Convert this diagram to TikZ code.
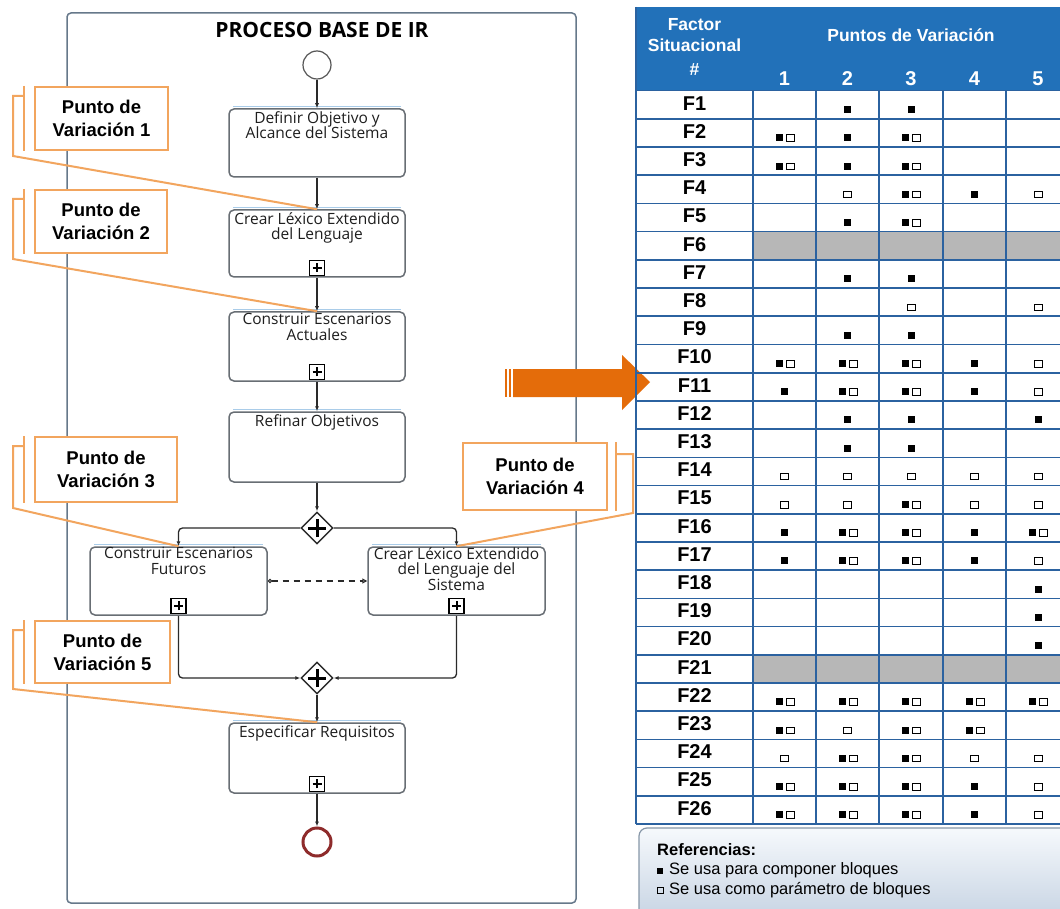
\documentclass[tikz,border=0pt]{standalone}
\usepackage{fontspec}
\setmainfont{Liberation Sans}
\newfontfamily\uifont{Open Sans}
\usetikzlibrary{arrows.meta,shapes.geometric}
\definecolor{laneline}{HTML}{66788A}
\definecolor{taskline}{HTML}{686E74}
\definecolor{taskglow}{HTML}{A9CCE9}
\definecolor{tasktext}{HTML}{1E1E1E}
\definecolor{flowc}{HTML}{2A2A2A}
\definecolor{noteor}{HTML}{F2A55E}
\definecolor{bigarrow}{HTML}{E46C0A}
\definecolor{hdrblue}{HTML}{2271B9}
\definecolor{gridblue}{HTML}{2B62A0}
\definecolor{cellgray}{HTML}{B7B7B7}
\definecolor{endred}{HTML}{8E2B2B}
\definecolor{legtop}{HTML}{F6F9FC}
\definecolor{legbot}{HTML}{C6D3E3}
\definecolor{legline}{HTML}{8797A8}

% marks inside a table cell: 0 none, 1 filled, 2 hollow, 3 both
\newcommand\cellmark[3]{%
  \ifcase#1\relax
  \or \fill (#2-3.5,#3-3.5) rectangle ++(7,7);
  \or \draw[line width=0.9] (#2-4,#3-3) rectangle ++(8,6.5);
  \or \fill (#2-9,#3-3.5) rectangle ++(7,7);
      \draw[line width=0.9] (#2+1.5,#3-3) rectangle ++(8,6.5);
  \else
  \fi}

\begin{document}
\begin{tikzpicture}[x=1pt,y=-1pt,
  lane/.style={draw=laneline, line width=1.5, rounded corners=4},
  task/.style={draw=taskline, line width=1.5, rounded corners=5, fill=white,
    minimum width=176, minimum height=68, inner sep=0},
  tasklabel/.style={anchor=north, align=center, inner sep=0, text=tasktext,
    font=\uifont\fontsize{15.5}{15.5}\selectfont},
  plusbox/.style={draw=black, line width=1.1, fill=white, minimum size=15, inner sep=0},
  gate/.style={diamond, draw=flowc, line width=1.4, fill=white,
    minimum width=32, minimum height=32, inner sep=0},
  flow/.style={draw=flowc, line width=1.3, rounded corners=4,
    -{Latex[length=5pt,width=4pt]}},
  assoc/.style={draw=flowc, line width=1.1, dash pattern=on 6pt off 5pt,
    {Circle[open,length=4.5pt]}-{Triangle[open,length=5pt,width=5pt]}},
  note/.style={draw=noteor, line width=2, fill=white, align=center, inner sep=0,
    font=\bfseries\fontsize{18.5}{23}\selectfont},
  noteline/.style={draw=noteor, line width=2},
  hdr/.style={text=white, inner sep=0, font=\bfseries\fontsize{17.5}{20}\selectfont},
  hnum/.style={text=white, inner sep=0, font=\bfseries\fontsize{20}{22}\selectfont},
  flab/.style={inner sep=0, font=\bfseries\fontsize{20}{22}\selectfont},
  grid/.style={draw=gridblue, line width=1.6}
]
\useasboundingbox (0,0) rectangle (1060,909);
\clip (0,0) rectangle (1060,909);
\fill[white] (0,0) rectangle (1060,909);

% ---------- process lane ----------
\draw[lane] (67,13) rectangle (576,903);
\node[inner sep=0, font=\uifont\bfseries\fontsize{21}{24}\selectfont] (title) at (322,30) {PROCESO BASE DE IR};

% events, tasks and gateways
\node[circle, draw=flowc!80, line width=1.2, fill=white, minimum size=28, inner sep=0] (start) at (317,65) {};
\node[task] (t1) at (317,143) {};
\node[task, minimum height=67] (t2) at (317,243.5) {};
\node[task, minimum height=69] (t3) at (317,346.5) {};
\node[task, minimum height=70] (t4) at (317,447) {};
\node[gate] (g1) at (317,528) {};
\node[task, minimum width=177] (t5) at (178.5,581) {};
\node[task, minimum width=177] (t6) at (456.5,581) {};
\node[gate] (g2) at (317,678) {};
\node[task, minimum height=70] (t7) at (317,758) {};
\node[circle, draw=endred, line width=3, fill=white, minimum size=28, inner sep=0] (end) at (317,842) {};

% light top edge of the task boxes
\foreach \t in {t1,t2,t3,t4,t5,t6,t7}
  \draw[taskglow, line width=1.2] ([xshift=5pt,yshift=1.4pt]\t.north west) -- ([xshift=-5pt,yshift=1.4pt]\t.north east);

\node[tasklabel] (t1l) at ([yshift=-3pt]t1.north) {Definir Objetivo y\\Alcance del Sistema};
\node[tasklabel] (t2l) at ([yshift=-3pt]t2.north) {Crear Léxico Extendido\\del Lenguaje};
\node[tasklabel] (t3l) at ([yshift=-2pt]t3.north) {Construir Escenarios\\Actuales};
\node[tasklabel] (t4l) at ([yshift=-3pt]t4.north) {Refinar Objetivos};
\node[tasklabel] (t5l) at ([yshift=-1pt]t5.north) {Construir Escenarios\\Futuros};
\node[tasklabel] (t6l) at ([yshift=-1pt]t6.north) {Crear Léxico Extendido\\del Lenguaje del\\Sistema};
\node[tasklabel] (t7l) at ([yshift=-3pt]t7.north) {Especificar Requisitos};

% collapsed sub-process markers
\foreach \t in {t2,t3,t5,t6,t7}{
  \node[plusbox] (\t p) at ([yshift=10pt]\t.south) {};
  \draw[line width=2] ([xshift=-4.5pt]\t p.center) -- ([xshift=4.5pt]\t p.center);
  \draw[line width=2] ([yshift=-4.5pt]\t p.center) -- ([yshift=4.5pt]\t p.center);
}
% parallel gateway markers
\foreach \g in {g1,g2}{
  \draw[line width=3] ([xshift=-9pt]\g.center) -- ([xshift=9pt]\g.center);
  \draw[line width=3] ([yshift=-9pt]\g.center) -- ([yshift=9pt]\g.center);
}

% sequence flows
\draw[flow] (start) -- (t1);
\draw[flow] (t1) -- (t2);
\draw[flow] (t2) -- (t3);
\draw[flow] (t3) -- (t4);
\draw[flow] (t4) -- (g1);
\draw[flow] (g1.west) -| (t5.north);
\draw[flow] (g1.east) -| (t6.north);
\draw[flow] (t5.south) |- (g2.west);
\draw[flow] (t6.south) |- (g2.east);
\draw[flow] (g2) -- (t7);
\draw[flow] (t7) -- (end);
\draw[assoc] (t5.east) -- (t6.west);

% ---------- variation point annotations ----------
\node[note, minimum width=133, minimum height=63] (c1) at (101.5,118.5) {Punto de\\Variación 1};
\node[note, minimum width=132, minimum height=63] (c2) at (101,221.5) {Punto de\\Variación 2};
\node[note, minimum width=142, minimum height=65] (c3) at (106,469.5) {Punto de\\Variación 3};
\node[note, minimum width=144, minimum height=67] (c4) at (535,476.5) {Punto de\\Variación 4};
\node[note, minimum width=135, minimum height=62] (c5) at (102.5,652) {Punto de\\Variación 5};

\foreach \c/\t in {c1/t2,c2/t3,c3/t5,c5/t7}{
  \draw[noteline] ([xshift=-10pt]\c.north west) -- ([xshift=-10pt]\c.south west);
  \draw[noteline] ([xshift=-10pt,yshift=-10pt]\c.north west) -- ++(-11,0)
    -- ([xshift=-21pt,yshift=-5pt]\c.south west) -- (\t.north);
}
\draw[noteline] ([xshift=8pt]c4.north east) -- ([xshift=8pt]c4.south east);
\draw[noteline] ([xshift=8pt,yshift=-12pt]c4.north east) -- ++(17,0)
  -- ([xshift=25pt,yshift=-2pt]c4.south east) -- (t6.north);

% ---------- big arrow ----------
\fill[bigarrow] (505,369) rectangle (507,397);
\fill[bigarrow] (509,369) rectangle (511,397);
\fill[bigarrow] (513,369) -- (622,369) -- (622,355) -- (650,382) -- (622,410)
  -- (622,397) -- (513,397) -- cycle;

% ---------- situational factor table ----------
\fill[hdrblue] (636,7) rectangle (1070,90.7);
\node[hdr] (hf1) at (694.5,25) {Factor};
\node[hdr] (hf2) at (694.5,45) {Situacional};
\node[hdr] (hf3) at (694.5,70) {\#};
\node[hdr] (hpv) at (911,35) {Puntos de Variación};
\foreach \n/\x in {1/784.5,2/847.5,3/911,4/974.5,5/1038}
  \node[hnum] (hn\n) at (\x,79) {\n};

\foreach \r/\a/\b/\c/\d/\e in {1/0/1/1/0/0, 2/3/1/3/0/0, 3/3/1/3/0/0,
    4/0/2/3/1/2, 5/0/1/3/0/0, 6/9/9/9/9/9, 7/0/1/1/0/0, 8/0/0/2/0/2,
    9/0/1/1/0/0, 10/3/3/3/1/2, 11/1/3/3/1/2, 12/0/1/1/0/1, 13/0/1/1/0/0,
    14/2/2/2/2/2, 15/2/2/3/2/2, 16/1/3/3/1/3, 17/1/3/3/1/2, 18/0/0/0/0/1,
    19/0/0/0/0/1, 20/0/0/0/0/1, 21/9/9/9/9/9, 22/3/3/3/3/3, 23/3/2/3/3/0,
    24/2/3/3/2/2, 25/3/3/3/1/2, 26/3/3/3/1/2}{
  \pgfmathsetmacro\yt{90.7+(\r-1)*28.2}
  \ifnum\a=9 \fill[cellgray] (753,\yt) rectangle (1070,\yt+28.2); \fi
  \node[flab] (fl\r) at (694.5,\yt+12.5) {F\r};
  \cellmark{\a}{784.5}{\yt+19}
  \cellmark{\b}{847.5}{\yt+19}
  \cellmark{\c}{911}{\yt+19}
  \cellmark{\d}{974.5}{\yt+19}
  \cellmark{\e}{1038}{\yt+19}
}
\foreach \i in {0,...,26}
  \draw[grid] (636,90.7+\i*28.2) -- (1070,90.7+\i*28.2);
\foreach \x in {636,753,816,879,943,1006}
  \draw[grid] (\x,90.7) -- (\x,823.9);
\draw[grid] (636,7) -- (636,90.7);

% ---------- legend ----------
\draw[draw=legline, line width=1.2, rounded corners=8, top color=legtop, bottom color=legbot]
  (639,828) rectangle (1080,920);
\node[anchor=west, inner sep=0, font=\bfseries\fontsize{16.5}{18}\selectfont] (lg0) at (657,850) {Referencias:};
\fill (657,868) rectangle (663,874);
\node[anchor=west, inner sep=0, font=\fontsize{16.5}{18}\selectfont] (lg1) at (669,870) {Se usa para componer bloques};
\draw[line width=0.8] (657,887.5) rectangle (663,893);
\node[anchor=west, inner sep=0, font=\fontsize{16.5}{18}\selectfont] (lg2) at (669,890) {Se usa como parámetro de bloques};
\end{tikzpicture}
\end{document}
